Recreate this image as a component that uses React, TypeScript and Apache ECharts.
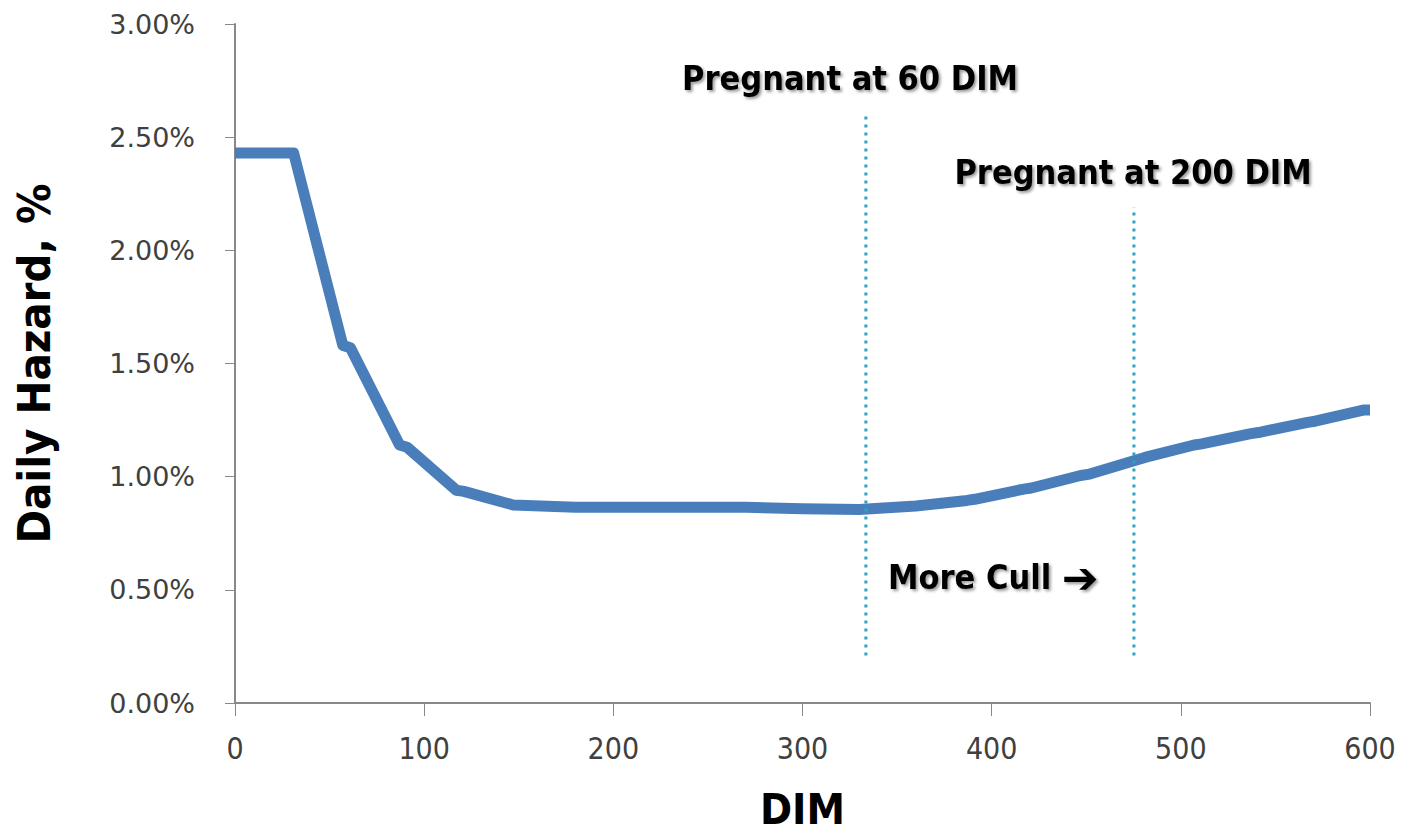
import React, { useEffect, useRef } from "react";
import * as echarts from "echarts";

const days = [0, 28, 31, 57, 61, 87, 91, 117, 121, 147, 180, 270, 300, 330, 360, 387, 391, 417, 421, 447, 451, 477, 481, 507, 511, 537, 541, 567, 571, 597, 600];
const hazard = [2.43, 2.43, 2.43, 1.58, 1.57, 1.14, 1.13, 0.94, 0.935, 0.875, 0.865, 0.865, 0.858, 0.855, 0.87, 0.895, 0.9, 0.945, 0.95, 1.005, 1.01, 1.075, 1.085, 1.14, 1.145, 1.19, 1.195, 1.24, 1.245, 1.295, 1.295];

const markerDays = [333.5, 475.2];
const markerTops = [2.61, 2.19];
const markerBottom = 0.21;
const annotations = ["Pregnant at 60 DIM", "Pregnant at 200 DIM", "More Cull"];

export default function App() {
  const ref = useRef<HTMLDivElement>(null);
  useEffect(() => {
    if (!ref.current) return;
    const chart = echarts.init(ref.current, null, { renderer: "svg" });
    const annStyle: any = {
      fill: "#000",
      fontFamily: "'DejaVu Sans Condensed', 'DejaVu Sans'",
      fontWeight: "bold",
      fontSize: 34,
      textAlign: "center",
      textVerticalAlign: "middle",
      textShadowColor: "rgba(0,0,0,0.4)",
      textShadowBlur: 3,
      textShadowOffsetX: 2,
      textShadowOffsetY: 2,
    };
    const markerSeries = markerDays.map((d, i) => ({
      type: "line",
      data: [
        [d, markerBottom],
        [d, markerTops[i]],
      ],
      symbol: "none",
      silent: true,
      lineStyle: { color: "#2CA3C2", width: 3, type: [3, 5], cap: "butt" },
      z: 3,
    }));
    chart.setOption({
      animation: false,
      grid: { left: 235, right: 35, top: 24, bottom: 135, outerBoundsMode: "none", containLabel: false },
      xAxis: {
        type: "value",
        min: 0,
        max: 600,
        interval: 100,
        name: "DIM",
        nameLocation: "middle",
        nameGap: 84,
        nameTextStyle: {
          fontFamily: "'DejaVu Sans Condensed', 'DejaVu Sans'",
          fontWeight: "bold",
          fontSize: 43,
          color: "#000",
        },
        axisLine: { lineStyle: { color: "#888", width: 2 } },
        axisTick: { show: true, length: 13, lineStyle: { color: "#888", width: 1 } },
        axisLabel: {
          fontFamily: "'DejaVu Sans Condensed', 'DejaVu Sans'",
          fontSize: 30,
          color: "#404040",
          margin: 30,
        },
        splitLine: { show: false },
      },
      yAxis: {
        type: "value",
        min: 0,
        max: 3,
        interval: 0.5,
        name: "Daily Hazard, %",
        nameLocation: "middle",
        nameGap: 178,
        nameRotate: 90,
        nameTextStyle: {
          fontFamily: "'DejaVu Sans Condensed', 'DejaVu Sans'",
          fontWeight: "bold",
          fontSize: 45,
          color: "#000",
        },
        axisLine: { show: true, lineStyle: { color: "#888", width: 2 } },
        axisTick: { show: true, length: 10, lineStyle: { color: "#888", width: 1 } },
        axisLabel: {
          fontFamily: "'DejaVu Sans'",
          fontSize: 27,
          color: "#404040",
          margin: 40,
          formatter: (v: number) => v.toFixed(2) + "%",
        },
        splitLine: { show: false },
      },
      series: [
        ...markerSeries,
        {
          type: "line",
          data: days.map((d, i) => [d, hazard[i]]),
          symbol: "none",
          lineStyle: { color: "#4A7EBB", width: 11, join: "round", cap: "butt" },
          z: 2,
        },
      ],
      graphic: [
        { type: "text", x: 850, y: 78, style: { ...annStyle, text: annotations[0] } },
        { type: "text", x: 1133, y: 172, style: { ...annStyle, text: annotations[1] } },
        {
          type: "text",
          x: 888,
          y: 577,
          style: {
            ...annStyle,
            textAlign: "left",
            text: "{t|" + annotations[2] + "} {a|\u2794}",
            rich: {
              t: { fontFamily: "'DejaVu Sans Condensed', 'DejaVu Sans'", fontWeight: "bold", fontSize: 34, fill: "#000" },
              a: { fontFamily: "'DejaVu Sans'", fontWeight: "bold", fontSize: 44, fill: "#000" },
            },
          },
        },
      ],
    });
    return () => chart.dispose();
  }, []);
  return (
    <div
      ref={ref}
      style={{ position: "fixed", left: 0, top: 0, width: 1405, height: 838, background: "#fff" }}
    />
  );
}
